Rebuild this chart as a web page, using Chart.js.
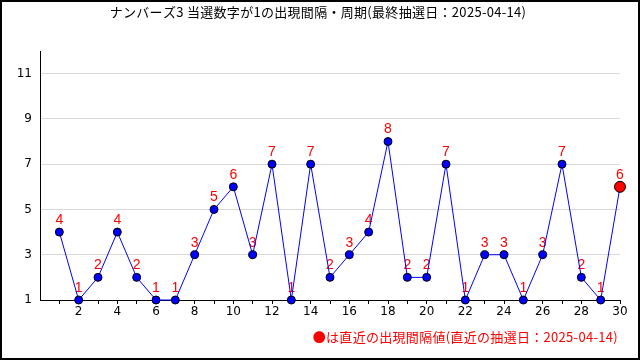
<!DOCTYPE html>
<html>
<head>
<meta charset="utf-8">
<script src="https://cdn.jsdelivr.net/npm/chart.js@4/dist/chart.umd.min.js"></script>
<style>
html,body{margin:0;padding:0;background:#fff;}
canvas{display:block;}
</style>
</head>
<body>
<canvas id="c" width="640" height="360"></canvas>
<script>
const titleText = "ナンバーズ3 当選数字が1の出現間隔・周期(最終抽選日：2025-04-14)";
const footerText = "●は直近の出現間隔値(直近の抽選日：2025-04-14)";
const drawIndex = [1,2,3,4,5,6,7,8,9,10,11,12,13,14,15,16,17,18,19,20,21,22,23,24,25,26,27,28,29,30];
const intervals = [4,1,2,4,2,1,1,3,5,6,3,7,1,7,2,3,4,8,2,2,7,1,3,3,1,3,7,2,1,6];
const xTickValues = [1,2,3,4,5,6,7,8,9,10,11,12,13,14,15,16,17,18,19,20,21,22,23,24,25,26,27,28,29,30];
const yTickValues = [1,3,5,7,9,11];

const points = drawIndex.map((x, i) => ({x: x, y: intervals[i]}));
const lastIdx = points.length - 1;

const decor = {
  id: 'decor',
  beforeDatasetsDraw(chart) {
    const ctx = chart.ctx;
    const meta = chart.getDatasetMeta(0);
    ctx.save();
    ctx.fillStyle = '#ff0000';
    ctx.font = '14px "Liberation Sans", Arial, sans-serif';
    ctx.textAlign = 'center';
    ctx.textBaseline = 'bottom';
    meta.data.forEach((el, i) => {
      ctx.fillText(String(intervals[i]), el.x, el.y - 5);
    });
    ctx.restore();
  },
  afterDraw(chart) {
    const ctx = chart.ctx;
    ctx.save();
    ctx.fillStyle = '#000';
    ctx.font = '13px "Noto Sans CJK JP", sans-serif';
    try { ctx.letterSpacing = '0.3px'; } catch (e) {}
    ctx.textAlign = 'center';
    ctx.textBaseline = 'middle';
    ctx.fillText(titleText, 318, 12);
    ctx.fillStyle = '#ff0000';
    ctx.textAlign = 'right';
    ctx.fillText(footerText, chart.chartArea.right - 2, 337);
    try { ctx.letterSpacing = '0px'; } catch (e) {}
    ctx.strokeStyle = '#000';
    ctx.lineWidth = 2;
    ctx.strokeRect(1, 1, 638, 358);
    ctx.restore();
  }
};

new Chart(document.getElementById('c'), {
  type: 'line',
  data: {
    datasets: [{
      data: points,
      borderColor: '#0000ff',
      borderWidth: 1,
      tension: 0,
      fill: false,
      clip: false,
      pointRadius: ctx => ctx.dataIndex === lastIdx ? 5.5 : 4,
      pointBackgroundColor: ctx => ctx.dataIndex === lastIdx ? '#ff0000' : '#0000ff',
      pointBorderColor: '#000',
      pointBorderWidth: 1
    }]
  },
  options: {
    responsive: false,
    animation: false,
    devicePixelRatio: 1,
    layout: {padding: {top: 51, right: 20, bottom: 0, left: 0}},
    plugins: {legend: {display: false}, tooltip: {enabled: false}, title: {display: false}},
    scales: {
      x: {
        type: 'linear',
        min: 0,
        max: 30,
        afterFit: s => { s.height = 60; },
        afterBuildTicks: s => { s.ticks = xTickValues.map(v => ({value: v})); },
        border: {color: '#000', width: 1},
        grid: {drawOnChartArea: false, drawTicks: true, tickLength: 4, color: '#000'},
        ticks: {
          autoSkip: false,
          maxRotation: 0,
          padding: 1,
          color: '#000',
          font: {family: '"DejaVu Sans", sans-serif', size: 12},
          callback: v => (v % 2 === 0 ? String(v) : '')
        }
      },
      y: {
        type: 'linear',
        min: 1,
        max: 12,
        afterFit: s => { s.width = 40; },
        afterBuildTicks: s => { s.ticks = yTickValues.map(v => ({value: v})); },
        border: {color: '#000', width: 1},
        grid: {drawTicks: false, color: ctx => (ctx.tick && ctx.tick.value === 1 ? 'rgba(0,0,0,0)' : '#d9d9d9')},
        ticks: {
          padding: 8,
          color: '#000',
          font: {family: '"DejaVu Sans", sans-serif', size: 12},
          callback: v => String(v)
        }
      }
    }
  },
  plugins: [decor]
});
</script>
</body>
</html>
